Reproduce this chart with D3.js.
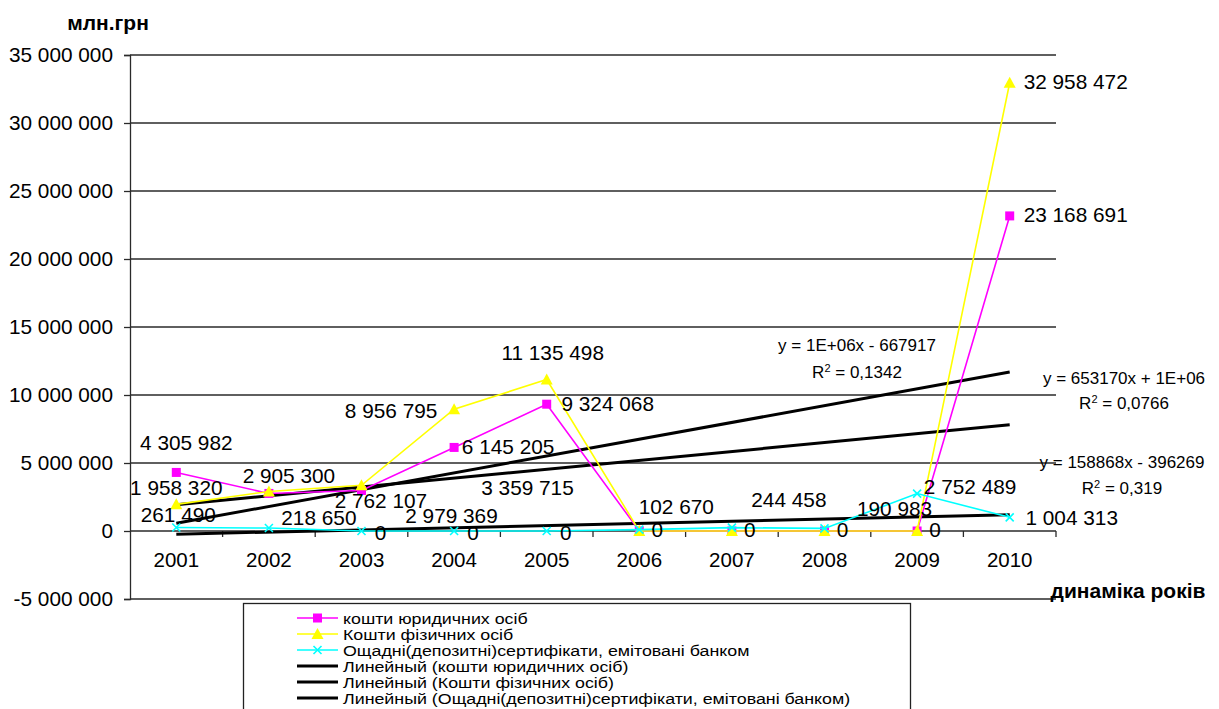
<!DOCTYPE html>
<html>
<head>
<meta charset="utf-8">
<script src="https://cdnjs.cloudflare.com/ajax/libs/d3/7.8.5/d3.min.js"></script>
<style>
  html, body { margin: 0; padding: 0; background: #fff; }
  svg { display: block; font-family: "Liberation Sans", Arial, sans-serif; }
</style>
</head>
<body>
<svg id="chart" width="1219" height="709"></svg>
<script>
// ---------- DATA ----------
const years = ["2001","2002","2003","2004","2005","2006","2007","2008","2009","2010"];
const legalEntityFunds   = [4305982, 2762107, 2979369, 6145205, 9324068, 0, 0, 0, 0, 23168691];
const individualFunds    = [1958320, 2905300, 3359715, 8956795, 11135498, 0, 0, 0, 0, 32958472];
const depositCertificates = [261490, 218650, 0, 0, 0, 102670, 244458, 190983, 2752489, 1004313];
const yTickValues = [-5000000, 0, 5000000, 10000000, 15000000, 20000000, 25000000, 30000000, 35000000];
const seriesNames = ["кошти юридичних осіб", "Кошти фізичних осіб", "Ощадні(депозитні)сертифікати, емітовані банком"];
const trendNames = ["Линейный (кошти юридичних осіб)", "Линейный (Кошти фізичних осіб)", "Линейный (Ощадні(депозитні)сертифікати, емітовані банком)"];
const trendEquations = ["y = 653170x + 1E+06", "y = 1E+06x - 667917", "y = 158868x - 396269"];
const trendR2 = ["0,0766", "0,1342", "0,319"];
const yAxisTitle = "млн.грн";
const xAxisTitle = "динаміка років";

// ---------- LAYOUT / STYLE (not data) ----------
const colors = ["#FF00FF", "#FFFF00", "#00FFFF"];
// label nudges (px) relative to each point, null = no label
const labelNudges = [
  [[10,-30],[112,7],[90,25],[54,-1],[61,-1],null,null,null,null,[66,-1]],
  [[0,-17],[20,-16],[166,2],[-63,1],[6,-27],[18,-1],[18,-1],[18,-1],[18,-1],[66,-1]],
  [[2,-13],[50,-11],[19,2],[19,2],[19,2],[37,-23],[57,-28],[70,-20],[53,-7],[62,0]]
];
const eqPositions = [[1124,378,403],[857,345,372],[1122,462,488]];

const svg = d3.select("#chart");
const x = d3.scaleBand().domain(years).range([130, 1056]);
const y = d3.scaleLinear().domain([-5000000, 35000000]).range([599, 55]);
const cx = d => x(d) + x.bandwidth() / 2;

const locale = d3.formatLocale({decimal: ",", thousands: " ", grouping: [3], currency: ["", ""], minus: "-"});
const fmt = locale.format(",d");

// gridlines
svg.append("g").selectAll("line").data(yTickValues).join("line")
  .attr("x1", 130).attr("x2", 1056)
  .attr("y1", d => y(d)).attr("y2", d => y(d))
  .attr("stroke", "#2a2a2a").attr("stroke-width", 1.3);

// y axis
const yAxis = svg.append("g").attr("transform", "translate(130,0)")
  .call(d3.axisLeft(y).tickValues(yTickValues).tickSize(6).tickPadding(11).tickFormat(fmt));
yAxis.select(".domain").attr("stroke", "#2a2a2a").attr("stroke-width", 1.3);
yAxis.selectAll(".tick line").attr("stroke", "#2a2a2a").attr("stroke-width", 1.3);
yAxis.selectAll("text").attr("font-size", 20.8).attr("fill", "#000").attr("font-family", "Liberation Sans, Arial");

// x axis at zero
const xAxis = svg.append("g").attr("transform", `translate(0,${y(0)})`)
  .call(d3.axisBottom(x).tickSize(0).tickPadding(21));
xAxis.select(".domain").remove();
xAxis.selectAll("text").attr("font-size", 20.5).attr("fill", "#000").attr("font-family", "Liberation Sans, Arial");
svg.append("g").selectAll("line").data(d3.range(1, years.length + 1)).join("line")
  .attr("x1", i => 130 + i * x.step()).attr("x2", i => 130 + i * x.step())
  .attr("y1", y(0)).attr("y2", y(0) + 6)
  .attr("stroke", "#2a2a2a").attr("stroke-width", 1.3);

// series
const allSeries = [legalEntityFunds, individualFunds, depositCertificates];
const line = d3.line().x((d, i) => cx(years[i])).y(d => y(d));

// trend lines (least squares on each series, x = 1..n)
function linReg(vals) {
  const xs = vals.map((_, i) => i + 1);
  const mx = d3.mean(xs), my = d3.mean(vals);
  const sxy = d3.sum(xs, (xv, i) => (xv - mx) * (vals[i] - my));
  const sxx = d3.sum(xs, xv => (xv - mx) ** 2);
  const b = sxy / sxx; return {b, a: my - b * mx};
}
const trendG = svg.append("g");
allSeries.forEach(vals => {
  const r = linReg(vals);
  trendG.append("line")
    .attr("x1", cx(years[0])).attr("y1", y(r.a + r.b * 1))
    .attr("x2", cx(years[years.length - 1])).attr("y2", y(r.a + r.b * years.length))
    .attr("stroke", "#000").attr("stroke-width", 3);
});

function marker(g, idx, px, py) {
  if (idx === 0) {
    g.append("rect").attr("x", px - 4.5).attr("y", py - 4.5).attr("width", 9).attr("height", 9).attr("fill", colors[0]);
  } else if (idx === 1) {
    g.append("path").attr("d", `M${px},${py - 6}L${px + 6},${py + 5}L${px - 6},${py + 5}Z`).attr("fill", colors[1]);
  } else {
    g.append("path").attr("d", `M${px - 4},${py - 4}L${px + 4},${py + 4}M${px - 4},${py + 4}L${px + 4},${py - 4}`)
      .attr("stroke", colors[2]).attr("stroke-width", 1.6);
  }
}

allSeries.forEach((vals, si) => {
  const g = svg.append("g");
  g.append("path").datum(vals).attr("d", line).attr("fill", "none")
    .attr("stroke", colors[si]).attr("stroke-width", 1.6);
  vals.forEach((v, i) => marker(g, si, cx(years[i]), y(v)));
});

// data labels
allSeries.forEach((vals, si) => {
  vals.forEach((v, i) => {
    const nd = labelNudges[si][i];
    if (!nd) return;
    svg.append("text").attr("x", cx(years[i]) + nd[0]).attr("y", y(v) + nd[1])
      .attr("dy", "0.36em").attr("text-anchor", "middle")
      .attr("font-size", 20.8).attr("fill", "#000").text(fmt(v));
  });
});

// trend equations
trendEquations.forEach((eq, k) => {
  const [ex, ey1, ey2] = eqPositions[k];
  svg.append("text").attr("x", ex).attr("y", ey1).attr("dy", "0.36em").attr("text-anchor", "middle")
    .attr("font-size", 17).attr("fill", "#000").text(eq);
  const t = svg.append("text").attr("x", ex).attr("y", ey2).attr("dy", "0.36em").attr("text-anchor", "middle")
    .attr("font-size", 17).attr("fill", "#000");
  t.append("tspan").text("R");
  t.append("tspan").attr("font-size", 11).attr("dy", "-0.6em").text("2");
  t.append("tspan").attr("dy", "0.4em").text(" = " + trendR2[k]);
});

// axis titles
svg.append("text").attr("x", 108).attr("y", 22).attr("dy", "0.36em").attr("text-anchor", "middle")
  .attr("font-size", 21).attr("font-weight", "bold").text(yAxisTitle);
svg.append("text").attr("x", 1128).attr("y", 590).attr("dy", "0.36em").attr("text-anchor", "middle")
  .attr("font-size", 21).attr("font-weight", "bold").text(xAxisTitle);

// legend
const lg = svg.append("g");
lg.append("rect").attr("x", 243.5).attr("y", 603.5).attr("width", 667).attr("height", 130)
  .attr("fill", "#fff").attr("stroke", "#222").attr("stroke-width", 1.3);
const legendItems = seriesNames.map((n, i) => ({name: n, type: "series", idx: i}))
  .concat(trendNames.map((n, i) => ({name: n, type: "trend", idx: i})));
legendItems.forEach((it, r) => {
  const ly = 618 + r * 16;
  if (it.type === "series") {
    lg.append("line").attr("x1", 297).attr("x2", 338).attr("y1", ly).attr("y2", ly)
      .attr("stroke", colors[it.idx]).attr("stroke-width", 1.6);
    marker(lg, it.idx, 317.5, ly);
  } else {
    lg.append("line").attr("x1", 297).attr("x2", 338).attr("y1", ly).attr("y2", ly)
      .attr("stroke", "#000").attr("stroke-width", 3);
  }
  lg.append("text").attr("transform", `translate(343,${ly}) scale(1.15,1)`).attr("dy", "0.36em")
    .attr("font-size", 15.5).attr("fill", "#000").text(it.name);
});
</script>
</body>
</html>
